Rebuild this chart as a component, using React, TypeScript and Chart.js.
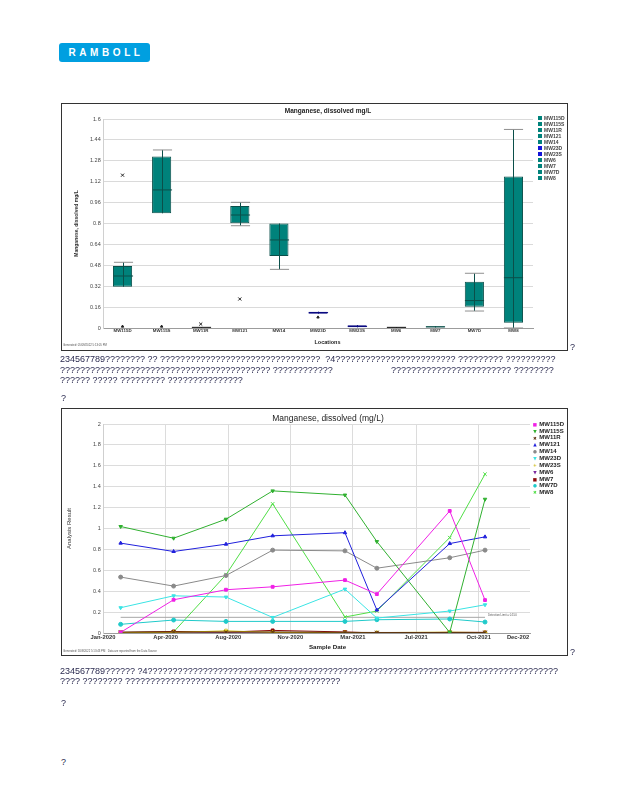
import React, { useEffect, useRef } from 'react';
import { Chart, registerables } from 'chart.js';

Chart.register(...registerables);

const SANS = '"Liberation Sans", Arial, Helvetica, sans-serif';
Chart.defaults.font.family = SANS;

// ---------------- Box plot: Manganese, dissolved mg/L by location ----------------
const locations = ['MW115D', 'MW115S', 'MW11R', 'MW121', 'MW14', 'MW23D', 'MW23S', 'MW6', 'MW7', 'MW7D', 'MW8'];
const boxLow = [0.316, 0.878, 0.003, 0.801, 0.551, 0.11, 0.005, 0.003, 0.004, 0.163, 0.041];
const boxHigh = [0.475, 1.312, 0.006, 0.934, 0.8, 0.125, 0.022, 0.007, 0.014, 0.355, 1.16];
const medians = [0.398, 1.057, 0.005, 0.865, 0.674, 0.118, 0.012, 0.005, 0.009, 0.21, 0.385];
const whiskerLow = [0.316, 0.878, 0.003, 0.783, 0.449, 0.11, 0.005, 0.003, 0.004, 0.13, 0.0];
const whiskerHigh = [0.503, 1.363, 0.006, 0.962, 0.8, 0.125, 0.022, 0.007, 0.014, 0.419, 1.52];
const boxFill = ['#00827b', '#00827b', '#1a1a1a', '#00827b', '#00827b', '#1414c8', '#1414c8', '#1a1a1a', '#00827b', '#00827b', '#00827b'];
const boxEdge = ['#0b4f4a', '#0b4f4a', '#111111', '#0b4f4a', '#0b4f4a', '#0a0a80', '#0a0a80', '#111111', '#0b4f4a', '#0b4f4a', '#0b4f4a'];
const boxLegendColors = ['#00827b', '#00827b', '#00827b', '#00827b', '#00827b', '#1414d8', '#1414d8', '#00827b', '#00827b', '#00827b', '#00827b'];
const outlierLocations = ['MW115D', 'MW115D', 'MW115S', 'MW11R', 'MW121', 'MW23D'];
const outlierValues = [1.17, 0.012, 0.012, 0.03, 0.222, 0.082];
const outlierMarkers = ['crossRot', 'triangle', 'triangle', 'crossRot', 'crossRot', 'triangle'];
const boxTickValues = [0, 0.16, 0.32, 0.48, 0.64, 0.8, 0.96, 1.12, 1.28, 1.44, 1.6];
const boxTickLabels = ['0', '0.16', '0.32', '0.48', '0.64', '0.8', '0.96', '1.12', '1.28', '1.44', '1.6'];

// ---------------- Time series: Manganese, dissolved (mg/L) ----------------
const axisStart = '2020-01-01';
const axisEnd = '2022-01-20';
const sampleDates = ['2020-02-01', '2020-05-04', '2020-08-04', '2020-10-25', '2021-03-01', '2021-04-26', '2021-09-01', '2021-11-02'];
const seriesNames = ['MW115D', 'MW115S', 'MW11R', 'MW121', 'MW14', 'MW23D', 'MW23S', 'MW6', 'MW7', 'MW7D', 'MW8'];
const MW115D = [0.006, 0.318, 0.414, 0.442, 0.506, 0.372, 1.168, 0.315];
const MW115S = [1.019, 0.907, 1.089, 1.36, 1.32, 0.875, 0.005, 1.28];
const MW11R = [0.008, 0.01, 0.008, 0.01, 0.006, 0.005, 0.005, 0.005];
const MW121 = [0.86, 0.78, 0.85, 0.93, 0.96, 0.22, 0.856, 0.92];
const MW14 = [0.535, 0.449, 0.55, 0.793, 0.786, 0.62, 0.72, 0.793];
const MW23D = [0.242, 0.356, 0.344, 0.149, 0.42, 0.143, 0.21, 0.27];
const MW23S = [0.004, 0.006, 0.02, 0.006, 0.004, 0.004, 0.008, 0.004];
const MW6 = [0.002, 0.003, 0.002, 0.003, 0.002, 0.002, 0.002, 0.002];
const MW7 = [0.006, 0.015, 0.008, 0.025, 0.01, 0.0, 0.006, 0.006];
const MW7D = [0.083, 0.124, 0.111, 0.111, 0.111, 0.127, 0.134, 0.105];
const MW8 = [0.005, 0.01, 0.557, 1.236, 0.153, 0.21, 0.913, 1.52];
const seriesValues = [MW115D, MW115S, MW11R, MW121, MW14, MW23D, MW23S, MW6, MW7, MW7D, MW8];
const seriesColors = ['#f020e6', '#30b030', '#5c3311', '#2020dc', '#8a8a8a', '#3ae4e4', '#c8b400', '#7b2a9e', '#8b0a0a', '#20caca', '#50de46'];
const seriesMarkers = ['rect', 'triangle', 'crossRot', 'triangle', 'circle', 'triangle', 'star', 'triangle', 'rect', 'circle', 'crossRot'];
const seriesMarkerRotation = [0, 180, 0, 0, 0, 180, 0, 180, 0, 0, 0];
const seriesLegendGlyphs = ['■', '▼', '✖', '▲', '●', '▼', '✳', '▼', '■', '●', '✖'];
const detectionLimit = 0.15;
const detectionLabel = 'Detection Limit = 0.150';
const resultTickValues = [0, 0.2, 0.4, 0.6, 0.8, 1, 1.2, 1.4, 1.6, 1.8, 2];
const resultTickLabels = ['0', '0.2', '0.4', '0.6', '0.8', '1', '1.2', '1.4', '1.6', '1.8', '2'];
const dateTickDates = ['2020-01-01', '2020-04-20', '2020-08-08', '2020-11-25', '2021-03-15', '2021-07-04', '2021-10-22', '2021-12-30'];
const dateTickLabels = ['Jan-2020', 'Apr-2020', 'Aug-2020', 'Nov-2020', 'Mar-2021', 'Jul-2021', 'Oct-2021', 'Dec-202'];

const dayOf = (s: string) => (Date.parse(s + 'T00:00:00Z') - Date.parse(axisStart + 'T00:00:00Z')) / 86400000;

// ---------------- page text ----------------
const q = (n: number) => '?'.repeat(n);
const para1 = [
  '234567789' + q(8) + ' ' + q(2) + ' ' + q(32) + '  ?4' + q(24) + ' ' + q(9) + ' ' + q(10),
  q(42) + ' ' + q(12),
  q(6) + ' ' + q(5) + ' ' + q(9) + ' ' + q(15),
];
const para1b = q(24) + ' ' + q(8);
const para2 = [
  '234567789' + q(6) + ' ?4' + q(82),
  q(4) + ' ' + q(8) + ' ' + q(43),
];

const whiskerPlugin = {
  id: 'whiskers',
  afterDatasetsDraw(chart: any) {
    const meta = chart.getDatasetMeta(0);
    const y = chart.scales.y;
    const ctx = chart.ctx;
    ctx.save();
    meta.data.forEach((bar: any, i: number) => {
      const x = Math.round(bar.x) + 0.5;
      const half = bar.width / 2;
      const yTop = y.getPixelForValue(whiskerHigh[i]);
      const yBot = y.getPixelForValue(whiskerLow[i]);
      const yMed = y.getPixelForValue(medians[i]);
      ctx.lineWidth = 1;
      ctx.strokeStyle = boxEdge[i];
      ctx.beginPath();
      ctx.moveTo(x, yTop);
      ctx.lineTo(x, yBot);
      ctx.stroke();
      ctx.beginPath();
      ctx.moveTo(x - half, yMed);
      ctx.lineTo(x + half, yMed);
      ctx.stroke();
      ctx.strokeStyle = '#8f8f8f';
      ctx.beginPath();
      if (whiskerHigh[i] > boxHigh[i]) {
        ctx.moveTo(x - half, yTop);
        ctx.lineTo(x + half, yTop);
      }
      if (whiskerLow[i] < boxLow[i]) {
        ctx.moveTo(x - half, yBot);
        ctx.lineTo(x + half, yBot);
      }
      ctx.stroke();
    });
    ctx.restore();
  },
};

function BoxChart() {
  const ref = useRef<HTMLCanvasElement>(null);
  useEffect(() => {
    const chart = new Chart(ref.current as HTMLCanvasElement, {
      type: 'bar',
      data: {
        labels: locations,
        datasets: [
          {
            type: 'bar',
            label: 'Box',
            data: locations.map((_, i) => [boxLow[i], boxHigh[i]]),
            backgroundColor: boxFill,
            borderColor: boxEdge,
            borderWidth: 1,
            borderSkipped: false,
            barPercentage: 0.49,
            categoryPercentage: 1,
            grouped: false,
            order: 2,
          } as any,
          {
            type: 'line',
            label: 'Outliers',
            data: outlierLocations.map((loc, i) => ({ x: loc, y: outlierValues[i] })),
            showLine: false,
            pointStyle: outlierMarkers,
            pointRadius: outlierMarkers.map((m) => (m === 'crossRot' ? 2.2 : 1.4)),
            borderColor: '#222',
            backgroundColor: '#222',
            pointBorderWidth: 1,
            order: 1,
          } as any,
        ],
      },
      options: {
        animation: false,
        responsive: true,
        maintainAspectRatio: false,
        layout: { padding: { top: 15, right: 33, bottom: 0, left: 0 } },
        plugins: { legend: { display: false }, tooltip: { enabled: false }, title: { display: false } },
        scales: {
          x: {
            type: 'category',
            offset: true,
            grid: { display: false, drawTicks: false },
            border: { display: true, color: '#9c9c9c' },
            ticks: { font: { size: 4.4, weight: 'bold' }, color: '#333', padding: 0, maxRotation: 0, autoSkip: false },
            afterFit: (s: any) => { s.height = 21; },
          },
          y: {
            min: 0,
            max: 1.6,
            afterBuildTicks: (s: any) => { s.ticks = boxTickValues.map((v) => ({ value: v })); },
            ticks: { callback: (_v: any, i: number) => boxTickLabels[i], font: { size: 5.5 }, color: '#444', padding: 2.3 },
            grid: { color: '#dadada', drawTicks: false },
            border: { display: true, color: '#d0d0d0' },
            title: { display: true, text: 'Manganese, dissolved mg/L', font: { size: 5, weight: 'bold' }, color: '#333', padding: { top: 11, bottom: 0 } },
            afterFit: (s: any) => { s.width = 40; },
          },
        },
      } as any,
      plugins: [whiskerPlugin],
    });
    return () => chart.destroy();
  }, []);
  return <canvas ref={ref} />;
}

function TrendChart() {
  const ref = useRef<HTMLCanvasElement>(null);
  useEffect(() => {
    const datasets: any[] = seriesNames.map((name, s) => ({
      label: name,
      data: sampleDates.map((d, i) => ({ x: dayOf(d), y: seriesValues[s][i] })),
      borderColor: seriesColors[s],
      backgroundColor: seriesColors[s],
      borderWidth: 1,
      pointStyle: seriesMarkers[s],
      pointRotation: seriesMarkerRotation[s],
      pointRadius: seriesMarkers[s] === 'crossRot' || seriesMarkers[s] === 'star' ? 2.4 : 2,
      pointBorderWidth: 1,
      tension: 0,
    }));
    datasets.push({
      label: 'Detection limit',
      data: [
        { x: dayOf(sampleDates[0]), y: detectionLimit },
        { x: dayOf(sampleDates[sampleDates.length - 1]), y: detectionLimit },
      ],
      borderColor: '#a6a6a6',
      borderWidth: 1,
      pointRadius: 0,
    });
    const chart = new Chart(ref.current as HTMLCanvasElement, {
      type: 'line',
      data: { datasets },
      options: {
        animation: false,
        responsive: true,
        maintainAspectRatio: false,
        layout: { padding: { top: 15, right: 36, bottom: 0, left: 0 } },
        plugins: { legend: { display: false }, tooltip: { enabled: false }, title: { display: false } },
        scales: {
          x: {
            type: 'linear',
            min: 0,
            max: dayOf(axisEnd),
            afterBuildTicks: (s: any) => { s.ticks = dateTickDates.map((d) => ({ value: dayOf(d) })); },
            ticks: { callback: (_v: any, i: number) => dateTickLabels[i], font: { size: 5.8, weight: 'bold' }, color: '#333', padding: 1, maxRotation: 0, autoSkip: false },
            grid: { color: (c: any) => (c.index === dateTickLabels.length - 1 ? 'rgba(0,0,0,0)' : '#dcdcdc'), drawTicks: false },
            border: { display: true, color: '#9c9c9c' },
            afterFit: (s: any) => { s.height = 21; },
          },
          y: {
            min: 0,
            max: 2,
            afterBuildTicks: (s: any) => { s.ticks = resultTickValues.map((v) => ({ value: v })); },
            ticks: { callback: (_v: any, i: number) => resultTickLabels[i], font: { size: 5.5 }, color: '#444', padding: 2.3 },
            grid: { color: '#dcdcdc', drawTicks: false },
            border: { display: true, color: '#cfcfcf' },
            title: { display: true, text: 'Analysis Result', font: { size: 6 }, color: '#333', padding: { top: 2.4, bottom: 0 } },
            afterFit: (s: any) => { s.width = 40; },
          },
        },
      } as any,
    });
    return () => chart.destroy();
  }, []);
  return <canvas ref={ref} />;
}

type TxtProps = { x: number; y: number; size: number; text: string; bold?: boolean; color?: string; center?: boolean };
function Txt({ x, y, size, text, bold, color, center }: TxtProps) {
  return (
    <div
      style={{
        position: 'absolute',
        left: x,
        top: y - size * 0.6,
        fontFamily: SANS,
        fontSize: size,
        lineHeight: size * 1.2 + 'px',
        fontWeight: bold ? 'bold' : 'normal',
        color: color || '#2b2b50',
        whiteSpace: 'pre',
        transform: center ? 'translateX(-50%)' : undefined,
      }}
    >
      {text}
    </div>
  );
}

export default function App() {
  return (
    <div style={{ position: 'absolute', left: 0, top: 0, width: 618, height: 800, background: '#fff', overflow: 'hidden' }}>
      {/* logo */}
      <div
        style={{
          position: 'absolute', left: 59, top: 43, width: 91, height: 19, background: '#009fe0', borderRadius: 3,
          color: '#fff', fontFamily: SANS, fontWeight: 'bold', fontSize: 10, lineHeight: '19px', letterSpacing: 3.6,
          textAlign: 'center', textIndent: 3,
        }}
      >
        RAMBOLL
      </div>

      {/* chart 1 frame */}
      <div style={{ position: 'absolute', left: 61, top: 103, width: 505, height: 246, border: '1px solid #333' }} />
      <div style={{ position: 'absolute', left: 63, top: 104, width: 503, height: 245 }}>
        <BoxChart />
      </div>
      <Txt x={328} y={111} size={6.5} bold center text="Manganese, dissolved mg/L" color="#222" />
      <Txt x={327.5} y={342} size={5.5} bold center text="Locations" color="#222" />
      <Txt x={63} y={345.5} size={2.8} text="Generated: 05/09/2022 5:13:05 PM" color="#555" />
      {locations.map((loc, i) => (
        <React.Fragment key={loc}>
          <div style={{ position: 'absolute', left: 538.3, top: 116.3 + i * 6, width: 4, height: 4, background: boxLegendColors[i] }} />
          <Txt x={544} y={118.3 + i * 6} size={5} bold text={loc} color="#444" />
        </React.Fragment>
      ))}
      <Txt x={570} y={347} size={9} text="?" />

      {/* paragraph 1 */}
      <Txt x={60} y={359.5} size={9} text={para1[0]} />
      <Txt x={60} y={370} size={9} text={para1[1]} />
      <Txt x={391} y={370} size={9} text={para1b} />
      <Txt x={60} y={380.5} size={9} text={para1[2]} />
      <Txt x={61} y={398} size={9} text="?" />

      {/* chart 2 frame */}
      <div style={{ position: 'absolute', left: 61, top: 408, width: 505, height: 246, border: '1px solid #333' }} />
      <div style={{ position: 'absolute', left: 63, top: 409, width: 503, height: 245 }}>
        <TrendChart />
      </div>
      <Txt x={328} y={418} size={8.5} center text="Manganese, dissolved (mg/L)" color="#222" />
      <Txt x={327.5} y={647} size={6.2} bold center text="Sample Date" color="#222" />
      <Txt x={63} y={651.5} size={2.8} text="Generated: 5/09/2022 5:13:43 PM   Data are reported from the Data Source" color="#555" />
      <Txt x={488} y={616} size={2.8} text={detectionLabel} color="#555" />
      {seriesNames.map((name, i) => (
        <React.Fragment key={name}>
          <div
            style={{
              position: 'absolute', left: 532, top: 424.3 + i * 6.85 - 3.5, width: 6, height: 7, textAlign: 'center',
              fontFamily: '"DejaVu Sans", sans-serif', fontSize: 4.5, lineHeight: '7px', color: seriesColors[i],
            }}
          >
            {seriesLegendGlyphs[i]}
          </div>
          <Txt x={539.3} y={424.3 + i * 6.85} size={6} bold text={name} color="#222" />
        </React.Fragment>
      ))}
      <Txt x={570} y={652} size={9} text="?" />

      {/* paragraph 2 */}
      <Txt x={60} y={671} size={9} text={para2[0]} />
      <Txt x={60} y={681.5} size={9} text={para2[1]} />
      <Txt x={61} y={703} size={9} text="?" />
      <Txt x={61} y={762} size={9} text="?" />
    </div>
  );
}
